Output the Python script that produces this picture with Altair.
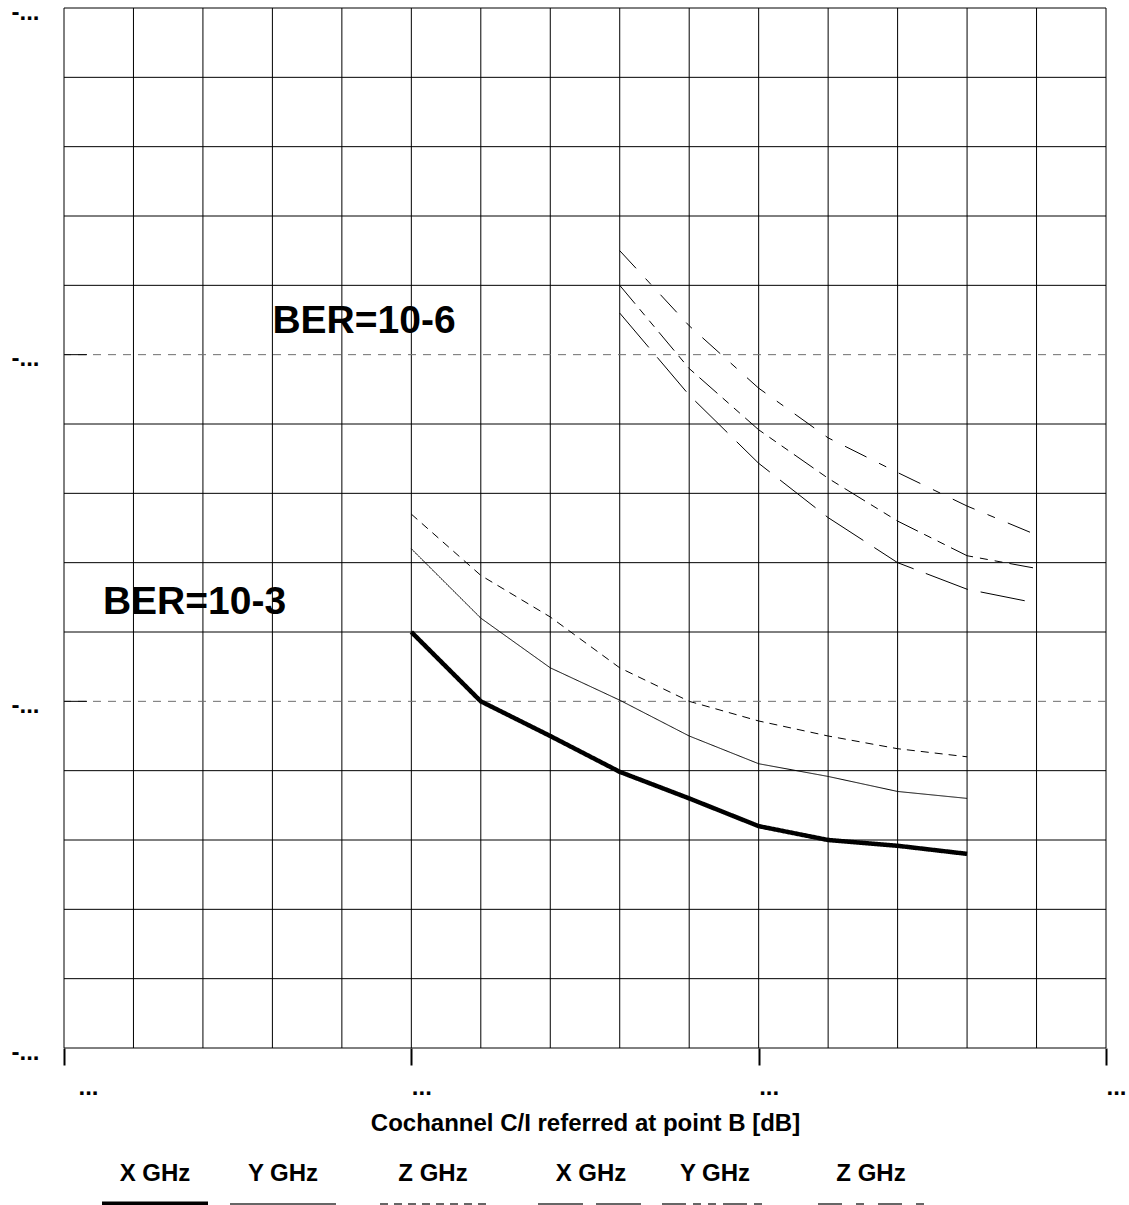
import altair as alt
import pandas as pd

FONT = "Liberation Sans"

# ---------------- data ----------------
# x: Cochannel C/I referred at point B [dB]
X_LOW = [15, 16, 17, 18, 19, 20, 21, 22, 23]
X_HIGH = [18, 19, 20, 21, 22, 23, 24]

# y: -log10(BER)
Y_X3 = [3.60, 3.00, 2.70, 2.39, 2.16, 1.92, 1.80, 1.75, 1.68]
Y_Y3 = [4.32, 3.72, 3.29, 3.01, 2.70, 2.46, 2.35, 2.22, 2.16]
Y_Z3 = [4.62, 4.09, 3.73, 3.29, 3.00, 2.83, 2.70, 2.59, 2.52]
Y_X6 = [6.36, 5.65, 5.06, 4.59, 4.20, 3.97, 3.85]
Y_Y6 = [6.60, 5.88, 5.35, 4.93, 4.56, 4.26, 4.15]
Y_Z6 = [6.90, 6.25, 5.71, 5.28, 4.98, 4.69, 4.44]

SERIES_IDS = ["X3", "Y3", "Z3", "X6", "Y6", "Z6"]
SERIES_LABELS = ["X GHz", "Y GHz", "Z GHz", "X GHz", "Y GHz", "Z GHz"]

BER_LEVELS = [3, 6]
BER_TEXT = ["BER=10-3", "BER=10-6"]
BER_TEXT_X = [10.56, 13.0]
BER_TEXT_Y = [3.76, 6.19]

X_TICKS = [10, 15, 20, 25]
Y_TICKS = [0, 3, 6, 9]
X_GRID = [10, 11, 12, 13, 14, 15, 16, 17, 18, 19, 20, 21, 22, 23, 24, 25]
Y_GRID = [0, 0.6, 1.2, 1.8, 2.4, 3.6, 4.2, 4.8, 5.4, 6.6, 7.2, 7.8, 8.4, 9.0]

# ---------------- layout / style ----------------
PLOT_LEFT, PLOT_TOP = 64, 8
W, H = 1042, 1040
LEGEND_CENTERS_PX = [155, 283, 433, 591, 715, 871]
SWATCH_HALF = 53
DASHES = [[1, 0], [1, 0], [8, 6], [45, 13], [24, 7, 8, 7, 8, 7], [24, 14, 8, 14]]

# ---------------- tables ----------------
rows = []
for sid, xs, ys in [("X3", X_LOW, Y_X3), ("Y3", X_LOW, Y_Y3), ("Z3", X_LOW, Y_Z3),
                    ("X6", X_HIGH, Y_X6), ("Y6", X_HIGH, Y_Y6), ("Z6", X_HIGH, Y_Z6)]:
    for x, y in zip(xs, ys):
        rows.append({"series": sid, "x": x, "y": y})
curves = pd.DataFrame(rows)

vgrid = pd.DataFrame({"x": X_GRID})
hgrid = pd.DataFrame({"y": Y_GRID})
ber = pd.DataFrame({"y": BER_LEVELS})
ann = pd.DataFrame({"x": BER_TEXT_X, "y": BER_TEXT_Y, "t": BER_TEXT})
leg = pd.DataFrame({
    "series": SERIES_IDS,
    "label": SERIES_LABELS,
    "cx": [c - PLOT_LEFT for c in LEGEND_CENTERS_PX],
})
leg["x1"] = leg["cx"] - SWATCH_HALF
leg["x2"] = leg["cx"] + SWATCH_HALF

xscale = alt.Scale(domain=[10, 25], nice=False, zero=False)
yscale = alt.Scale(domain=[0, 9], nice=False, zero=False)

xaxis = alt.Axis(
    values=X_TICKS, labelExpr="'...'", grid=False, domain=False,
    tickSize=17, tickWidth=2, tickColor="black",
    labelFontSize=24, labelFontWeight="bold", labelColor="black",
    labelPadding=10,
    labelOffset={"condition": {"test": "datum.value == 10", "value": 24}, "value": 10},
    labelFlush=False,
    title="Cochannel C/I referred at point B [dB]",
    titleFontSize=24, titleFontWeight="bold", titleColor="black", titlePadding=12,
)
yaxis = alt.Axis(
    values=Y_TICKS, labelExpr="'-...'", grid=False, domain=False,
    ticks=False, tickSize=0, labelPadding=25,
    labelFontSize=24, labelFontWeight="bold", labelColor="black",
    labelBaseline="alphabetic", labelOffset=11, labelFlush=False, title=None,
)

dash_scale = alt.Scale(domain=SERIES_IDS, range=DASHES)
is_thick = alt.datum.series == "X3"

l_vgrid = alt.Chart(vgrid).mark_rule(color="black", strokeWidth=1).encode(
    x=alt.X("x:Q", scale=xscale, axis=xaxis)
)
l_hgrid = alt.Chart(hgrid).mark_rule(color="black", strokeWidth=1).encode(
    y=alt.Y("y:Q", scale=yscale, axis=yaxis)
)
l_ber = alt.Chart(ber).mark_rule(color="#6e6e6e", strokeWidth=1, strokeDash=[8, 7]).encode(
    y=alt.Y("y:Q", scale=yscale)
)
l_bertick = alt.Chart(ber).mark_rule(color="black", strokeWidth=1).encode(
    y=alt.Y("y:Q", scale=yscale), x=alt.value(0), x2=alt.value(23)
)
l_curves = alt.Chart(curves).mark_line(color="black", strokeCap="butt", strokeJoin="miter").encode(
    x=alt.X("x:Q", scale=xscale),
    y=alt.Y("y:Q", scale=yscale),
    detail="series:N",
    strokeDash=alt.StrokeDash("series:N", scale=dash_scale, legend=None),
    strokeWidth=alt.condition(is_thick, alt.value(4.5), alt.value(1)),
)
l_ann = alt.Chart(ann).mark_text(
    align="left", baseline="alphabetic", fontSize=39, fontWeight="bold", color="black", font=FONT
).encode(x=alt.X("x:Q", scale=xscale), y=alt.Y("y:Q", scale=yscale), text="t:N")

l_leg_text = alt.Chart(leg).mark_text(
    align="center", baseline="alphabetic", fontSize=24, fontWeight="bold", color="black", font=FONT
).encode(x=alt.X("cx:Q", scale=None), y=alt.value(1181 - PLOT_TOP), text="label:N")

l_leg_sw = alt.Chart(leg).mark_rule(strokeCap="butt").encode(
    x=alt.X("x1:Q", scale=None), x2="x2:Q", y=alt.value(1204 - PLOT_TOP),
    strokeDash=alt.StrokeDash("series:N", scale=dash_scale, legend=None),
    color=alt.condition(is_thick, alt.value("black"), alt.value("#666666")),
    strokeWidth=alt.condition(is_thick, alt.value(5), alt.value(2)),
)

chart = alt.layer(
    l_vgrid, l_hgrid, l_ber, l_bertick, l_curves, l_ann, l_leg_text, l_leg_sw
).properties(
    width=W, height=H,
    autosize=alt.AutoSizeParams(type="none"),
    padding={"left": PLOT_LEFT, "top": PLOT_TOP, "right": 1129 - PLOT_LEFT - W, "bottom": 1205 - PLOT_TOP - H},
    background="white",
).configure_view(stroke=None).configure_axis(labelFont=FONT, titleFont=FONT).configure_text(font=FONT)

chart.save("out.html", embed_options={"renderer": "svg", "actions": False})
